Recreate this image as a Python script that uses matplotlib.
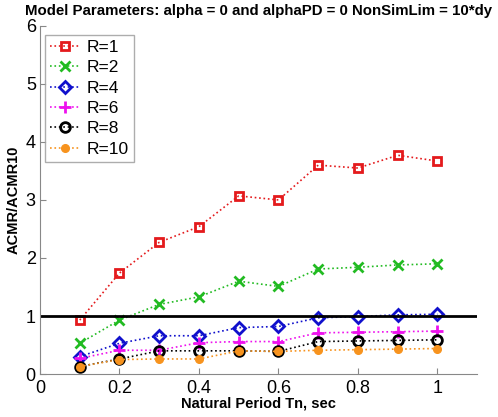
import numpy as np
import matplotlib.pyplot as plt

plt.rcParams['font.family'] = ['Liberation Sans', 'DejaVu Sans']

tn = [0.1, 0.2, 0.3, 0.4, 0.5, 0.6, 0.7, 0.8, 0.9, 1.0]
r1 = [0.93, 1.74, 2.27, 2.54, 3.07, 3.00, 3.60, 3.55, 3.77, 3.67]
r2 = [0.53, 0.93, 1.20, 1.33, 1.60, 1.51, 1.81, 1.84, 1.88, 1.90]
r4 = [0.30, 0.53, 0.66, 0.66, 0.80, 0.82, 0.97, 0.99, 1.02, 1.03]
r6 = [0.27, 0.41, 0.41, 0.54, 0.56, 0.56, 0.71, 0.72, 0.73, 0.74]
r8 = [0.13, 0.26, 0.40, 0.40, 0.40, 0.39, 0.56, 0.57, 0.58, 0.59]
r10 = [0.13, 0.25, 0.26, 0.26, 0.40, 0.39, 0.41, 0.42, 0.43, 0.44]

fig = plt.figure(figsize=(4.98, 4.17), dpi=100)
ax = fig.add_axes([0.0803, 0.103, 0.878, 0.835])

ax.plot(tn, r1, ':', color='#e41a1c', marker='s', mfc='none', mew=2, ms=6, lw=1.2, label='R=1')
ax.plot(tn, r2, ':', color='#22bb22', marker='x', mew=2, ms=7, lw=1.2, label='R=2')
ax.plot(tn, r4, ':', color='#1010cc', marker='D', mfc='none', mew=2, ms=6, lw=1.2, label='R=4')
ax.plot(tn, r6, ':', color='#ee11ee', marker='+', mew=2, ms=8, lw=1.2, label='R=6')
ax.plot(tn, r8, ':', color='black', marker='o', mfc='none', mew=2, ms=7, lw=1.2, label='R=8')
ax.plot(tn, r10, ':', color='#f7931e', marker='o', mec='#f7931e', ms=5.5, lw=1.2, label='R=10')
ax.plot([0, 1.1], [1, 1], color='black', lw=2)

ax.set_xlim(0, 1.1)
ax.set_ylim(0, 6)
ax.set_xticks([0, 0.2, 0.4, 0.6, 0.8, 1])
ax.set_xticklabels(['0', '0.2', '0.4', '0.6', '0.8', '1'])
ax.set_yticks(range(7))
ax.tick_params(direction='in', labelsize=13, length=4, color='#888888')
ax.tick_params(axis='x', pad=4)
ax.tick_params(axis='y', pad=3)
ax.spines['top'].set_visible(False)
ax.spines['right'].set_visible(False)
ax.spines['left'].set_color('#888888')
ax.spines['bottom'].set_color('#888888')

ax.set_xlabel('Natural Period Tn, sec', fontsize=10.5, fontweight='bold', labelpad=0)
ax.set_ylabel('ACMR/ACMR10', fontsize=10.5, fontweight='bold', labelpad=4)
ax.set_title('Model Parameters: alpha = 0 and alphaPD = 0 NonSimLim = 10*dy',
             fontsize=10.8, fontweight='bold', pad=8)

leg = ax.legend(loc='upper left', fontsize=12.5, fancybox=False, handlelength=1.7,
                handletextpad=0.4, labelspacing=0.3, borderpad=0.3, borderaxespad=0,
                bbox_to_anchor=(0.012, 0.975))
leg.get_frame().set_edgecolor('#999999')

fig.savefig('out.png', dpi=100)
